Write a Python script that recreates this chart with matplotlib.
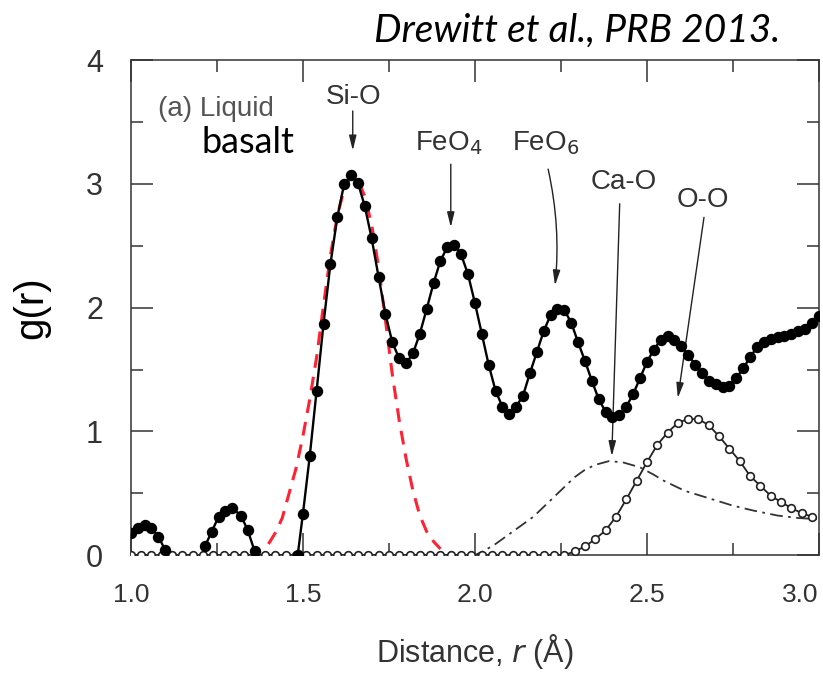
import matplotlib
matplotlib.use("Agg")
import matplotlib.pyplot as plt
import numpy as np

nan = np.nan

# total g(r), filled circles (gaps where the curve sits on zero)
r_tot = [1.00, 1.02, 1.04, 1.06, 1.08, 1.10, nan,
         1.215, 1.235, 1.255, 1.275, 1.295, 1.32, 1.34, 1.36, nan,
         1.485, 1.50, 1.52, 1.54, 1.56, 1.58, 1.60, 1.62, 1.64, 1.66, 1.68, 1.70,
         1.72, 1.74, 1.76, 1.78, 1.80, 1.82, 1.84, 1.86, 1.88, 1.90, 1.92, 1.94,
         1.96, 1.98, 2.00, 2.02, 2.04, 2.06, 2.08, 2.10, 2.12, 2.14, 2.16, 2.18,
         2.20, 2.22, 2.24, 2.26, 2.28, 2.30, 2.32, 2.34, 2.36, 2.38, 2.40, 2.42,
         2.44, 2.46, 2.48, 2.50, 2.52, 2.54, 2.56, 2.58, 2.60, 2.62, 2.64, 2.66,
         2.68, 2.70, 2.72, 2.74, 2.76, 2.78, 2.80, 2.82, 2.84, 2.86, 2.88, 2.90,
         2.92, 2.94, 2.96, 2.98, 3.00]
g_tot = [0.18, 0.22, 0.24, 0.22, 0.15, 0.04, nan,
         0.07, 0.19, 0.31, 0.36, 0.38, 0.32, 0.20, 0.03, nan,
         0.00, 0.33, 0.80, 1.33, 1.87, 2.35, 2.73, 3.00, 3.07, 3.01, 2.82, 2.56,
         2.25, 1.95, 1.72, 1.59, 1.55, 1.63, 1.79, 1.99, 2.20, 2.38, 2.49, 2.51,
         2.43, 2.27, 2.04, 1.79, 1.54, 1.33, 1.20, 1.14, 1.20, 1.29, 1.47, 1.64,
         1.81, 1.94, 1.99, 1.98, 1.88, 1.72, 1.57, 1.41, 1.26, 1.16, 1.12, 1.13,
         1.20, 1.30, 1.43, 1.56, 1.66, 1.74, 1.77, 1.74, 1.69, 1.62, 1.54, 1.47,
         1.41, 1.38, 1.36, 1.37, 1.43, 1.51, 1.60, 1.68, 1.72, 1.75, 1.76, 1.77,
         1.79, 1.81, 1.83, 1.88, 1.93]

# Si-O partial (red dashed)
r_sio = [1.40, 1.42, 1.44, 1.46, 1.48, 1.50, 1.52, 1.54, 1.56, 1.58, 1.60, 1.62, 1.64,
         1.66, 1.68, 1.70, 1.72, 1.74, 1.76, 1.78, 1.80, 1.82, 1.84, 1.86, 1.88, 1.90]
g_sio = [0.09, 0.18, 0.30, 0.50, 0.70, 0.96, 1.26, 1.60, 2.02, 2.42, 2.74, 2.96, 3.06,
         3.03, 2.90, 2.67, 2.33, 1.90, 1.46, 1.09, 0.78, 0.52, 0.32, 0.19, 0.11, 0.05]

# Ca-O partial (dash-dot)
r_cao = [1.00, 2.00, 2.03, 2.06, 2.10, 2.14, 2.17, 2.20, 2.23, 2.26, 2.29, 2.32, 2.35,
         2.39, 2.43, 2.48, 2.52, 2.55, 2.61, 2.68, 2.75, 2.81, 2.88, 2.94, 3.00]
g_cao = [0.00, 0.00, 0.04, 0.09, 0.17, 0.25, 0.31, 0.39, 0.47, 0.55, 0.63, 0.69, 0.73,
         0.76, 0.75, 0.71, 0.65, 0.60, 0.52, 0.46, 0.40, 0.36, 0.32, 0.30, 0.29]

# O-O partial (open circles)
r_oo = [1.00, 1.03, 1.06, 1.09, 1.12, 1.15, 1.18, 1.21, 1.24, 1.27, 1.30, 1.33, 1.36,
        1.39, 1.42, 1.45, 1.48, 1.51, 1.54, 1.57, 1.60, 1.63, 1.66, 1.69, 1.72, 1.75,
        1.78, 1.81, 1.84, 1.87, 1.90, 1.93, 1.96, 1.99, 2.02, 2.05, 2.08, 2.11, 2.14,
        2.17, 2.20, 2.23, 2.26, 2.29, 2.32, 2.35, 2.38, 2.41, 2.44, 2.47, 2.50, 2.53,
        2.56, 2.59, 2.62, 2.65, 2.68, 2.71, 2.74, 2.77, 2.80, 2.83, 2.86, 2.89, 2.92,
        2.95, 2.98]
g_oo = [0.0] * 43 + [0.03, 0.07, 0.13, 0.20, 0.31, 0.45, 0.60, 0.75, 0.89, 0.99,
                     1.07, 1.10, 1.10, 1.05, 0.96, 0.86, 0.76, 0.64, 0.56, 0.48,
                     0.43, 0.38, 0.34, 0.31]

x_ticks = [1.0, 1.5, 2.0, 2.5, 3.0]
y_ticks = [0, 1, 2, 3, 4]

# peak labels: text, text position, arrow tail, arrow tip
peaks = [
    ("Si-O", (1.648, 3.645), (1.645, 3.59), (1.645, 3.27)),
    ("FeO$_4$", (1.925, 3.27), (1.93, 3.16), (1.93, 2.65)),
    ("FeO$_6$", (2.205, 3.27), (2.213, 3.12), (2.233, 2.18)),
    ("Ca-O", (2.433, 2.96), (2.421, 2.84), (2.398, 0.80)),
    ("O-O", (2.663, 2.81), (2.666, 2.73), (2.590, 1.27)),
]

sans = ["Liberation Sans", "DejaVu Sans"]
plt.rcParams["font.family"] = sans

fig = plt.figure(figsize=(8.23, 6.77), dpi=100)
ax = fig.add_axes([0.159, 0.180, 0.836, 0.731])

ax.plot(r_cao, g_cao, color="#333333", lw=1.3, ls=(0, (7, 3, 1.5, 3)), zorder=2)
ax.plot(r_oo, g_oo, color="#222222", lw=1.3, marker="o", ms=5.5, mfc="white",
        mec="#222222", mew=1.2, zorder=3)
ax.plot(r_sio, g_sio, color="#ff2233", lw=2.2, ls=(0, (4.5, 3)), zorder=4)
ax.plot(r_tot, g_tot, color="black", lw=1.7, marker="o", ms=7.2, zorder=5)

ax.set_xlim(1.0, 3.0)
ax.set_ylim(0, 4)
ax.set_xticks(x_ticks)
ax.set_xticklabels(["%.1f" % v for v in x_ticks])
ax.get_xticklabels()[-1].set_horizontalalignment("right")
ax.set_yticks(y_ticks)
ax.set_xticks(np.array([1.25, 1.75, 2.25, 2.75]), minor=True)
ax.set_yticks(np.array([0.5, 1.5, 2.5, 3.5]), minor=True)
ax.tick_params(which="both", direction="in", top=True, right=True,
               color="#333333", width=1.1)
ax.tick_params(which="major", length=16, pad=20)
ax.tick_params(which="minor", length=8.5)
ax.tick_params(axis="x", labelsize=19, labelcolor="#333333")
ax.tick_params(axis="y", labelsize=22, labelcolor="#333333")
for s in ax.spines.values():
    s.set_color("#333333")
    s.set_linewidth(1.1)

ax.set_xlabel("Distance, $\\it{r}$ (Å)", fontsize=22, color="#333333", labelpad=18)
ax.set_ylabel("g(r)", fontsize=29, color="black", labelpad=26)

for label, txt_xy, tail, tip in peaks:
    ax.text(txt_xy[0], txt_xy[1], label, fontsize=20, color="#333333",
            ha="center", va="baseline")
    conn = "arc3,rad=-0.08" if label == "FeO$_6$" else "arc3"
    ax.annotate("", xy=tip, xytext=tail,
                arrowprops=dict(arrowstyle="-|>,head_length=0.9,head_width=0.22",
                                color="#222222", lw=1.0, shrinkA=0, shrinkB=0,
                                connectionstyle=conn))

ax.text(1.078, 3.55, "(a) Liquid", fontsize=20, color="#555555", va="baseline")
ax.text(1.206, 3.25, "basalt", fontsize=26, color="black", va="baseline",
        family=["Lato", "DejaVu Sans"])

fig.text(0.948, 0.938, "Drewitt et al., PRB 2013.", fontsize=28, style="italic",
         ha="right", va="baseline", family=["Lato", "DejaVu Sans"])

fig.savefig("out.png", dpi=100)
